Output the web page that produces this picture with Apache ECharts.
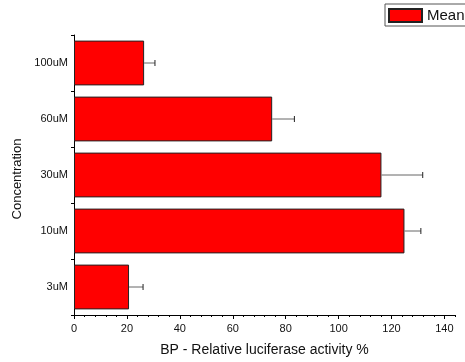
<!DOCTYPE html>
<html>
<head>
<meta charset="utf-8">
<script src="https://cdn.jsdelivr.net/npm/echarts@6/dist/echarts.min.js"></script>
<style>
html,body{margin:0;padding:0;background:#fff;}
#c{width:465px;height:362px;}
</style>
</head>
<body>
<div id="c"></div>
<script>
var categories = ['3uM', '10uM', '30uM', '60uM', '100uM'];
var meanValues = [20.8, 124.9, 116.2, 74.9, 26.5];
var errorValues = [5.3, 6.2, 15.6, 8.4, 4.1];
var xTickValues = [0, 20, 40, 60, 80, 100, 120, 140];

var FONT = '"Liberation Sans", Arial, sans-serif';
var chart = echarts.init(document.getElementById('c'), null, {renderer: 'canvas'});

var errData = categories.map(function (c, i) { return [i, meanValues[i], errorValues[i]]; });

var option = {
  animation: false,
  backgroundColor: '#fff',
  textStyle: {fontFamily: FONT},
  legend: {
    data: [{name: 'Mean', icon: 'rect'}],
    left: 385, top: 4,
    orient: 'vertical',
    itemWidth: 33, itemHeight: 13,
    padding: [4, 20, 3, 3],
    borderColor: '#555', borderWidth: 1,
    textStyle: {fontFamily: FONT, fontSize: 15, color: '#111'}
  },
  grid: {left: 74, top: 35, right: 10, bottom: 46, containLabel: false},
  xAxis: [{
    type: 'value', min: 0, max: 144, interval: 20,
    name: 'BP - Relative luciferase activity %',
    nameLocation: 'middle', nameGap: 28,
    nameTextStyle: {fontFamily: FONT, fontSize: 14, color: '#111'},
    axisLine: {show: true, lineStyle: {color: '#000', width: 1}},
    axisTick: {show: true, length: 4, customValues: xTickValues, lineStyle: {color: '#000'}},
    axisLabel: {customValues: xTickValues, fontFamily: FONT, fontSize: 11, color: '#111', margin: 8},
    splitLine: {show: false}
  }, {
    type: 'value', min: 0, max: 144, interval: 4, position: 'bottom',
    axisLine: {show: false},
    axisTick: {show: true, length: 2, lineStyle: {color: '#000'}},
    axisLabel: {show: false},
    splitLine: {show: false}
  }],
  yAxis: {
    type: 'category', data: categories,
    name: 'Concentration', nameLocation: 'middle', nameGap: 44,
    nameTextStyle: {fontFamily: FONT, fontSize: 13, color: '#111', padding: [0, 8, 0, 0]},
    axisLine: {show: true, lineStyle: {color: '#000', width: 1}},
    axisTick: {show: true, length: 3, lineStyle: {color: '#000'}},
    axisLabel: {fontFamily: FONT, fontSize: 11, color: '#111', margin: 6},
    splitLine: {show: false}
  },
  series: [{
    name: 'Mean', type: 'bar', data: meanValues,
    barCategoryGap: '20%',
    itemStyle: {color: '#ff0000', borderColor: '#222', borderWidth: 1}
  }, {
    name: 'err', type: 'custom', data: errData,
    encode: {x: 1, y: 0},
    z: 3,
    renderItem: function (params, api) {
      var yi = api.value(0), m = api.value(1), e = api.value(2);
      var p0 = api.coord([m, yi]);
      var p1 = api.coord([m + e, yi]);
      var h = 3;
      return {
        type: 'group',
        children: [{
          type: 'line', shape: {x1: p0[0], y1: p0[1], x2: p1[0], y2: p1[1]},
          style: {stroke: '#666', lineWidth: 1}
        }, {
          type: 'line', shape: {x1: p1[0], y1: p1[1] - h, x2: p1[0], y2: p1[1] + h},
          style: {stroke: '#222', lineWidth: 1}
        }]
      };
    }
  }]
};
chart.setOption(option);
</script>
</body>
</html>
